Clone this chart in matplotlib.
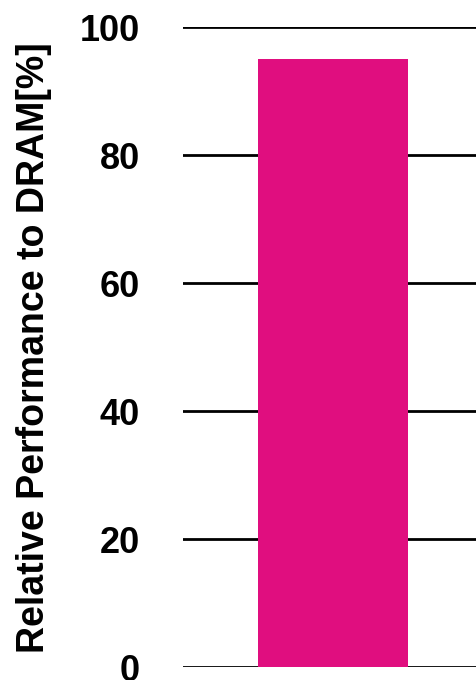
import matplotlib.pyplot as plt

# data
categories = ['']
values = [95]
yticks = [0, 20, 40, 60, 80, 100]

plt.rcParams['font.family'] = ['Liberation Sans', 'DejaVu Sans']

fig = plt.figure(figsize=(4.77, 6.8), dpi=100)
ax = fig.add_axes([0.384, 0.0187, 0.616, 0.9413])

ax.set_axisbelow(True)
ax.yaxis.grid(True, color='black', linewidth=2)
ax.bar([0.01], values, width=0.51, color='#E00E7F', zorder=3)

ax.set_xlim(-0.5, 0.5)
ax.set_ylim(0, 100)
ax.set_yticks(yticks)
ax.set_yticklabels([str(t) for t in yticks], fontsize=26, fontweight='bold')
ax.set_xticks([])
ax.tick_params(axis='y', length=0, pad=31)
for s in ax.spines.values():
    s.set_visible(False)

ax.set_ylabel('Relative Performance to DRAM[%]', fontsize=27, fontweight='bold',
              labelpad=20)

fig.savefig('out.png', dpi=100)
